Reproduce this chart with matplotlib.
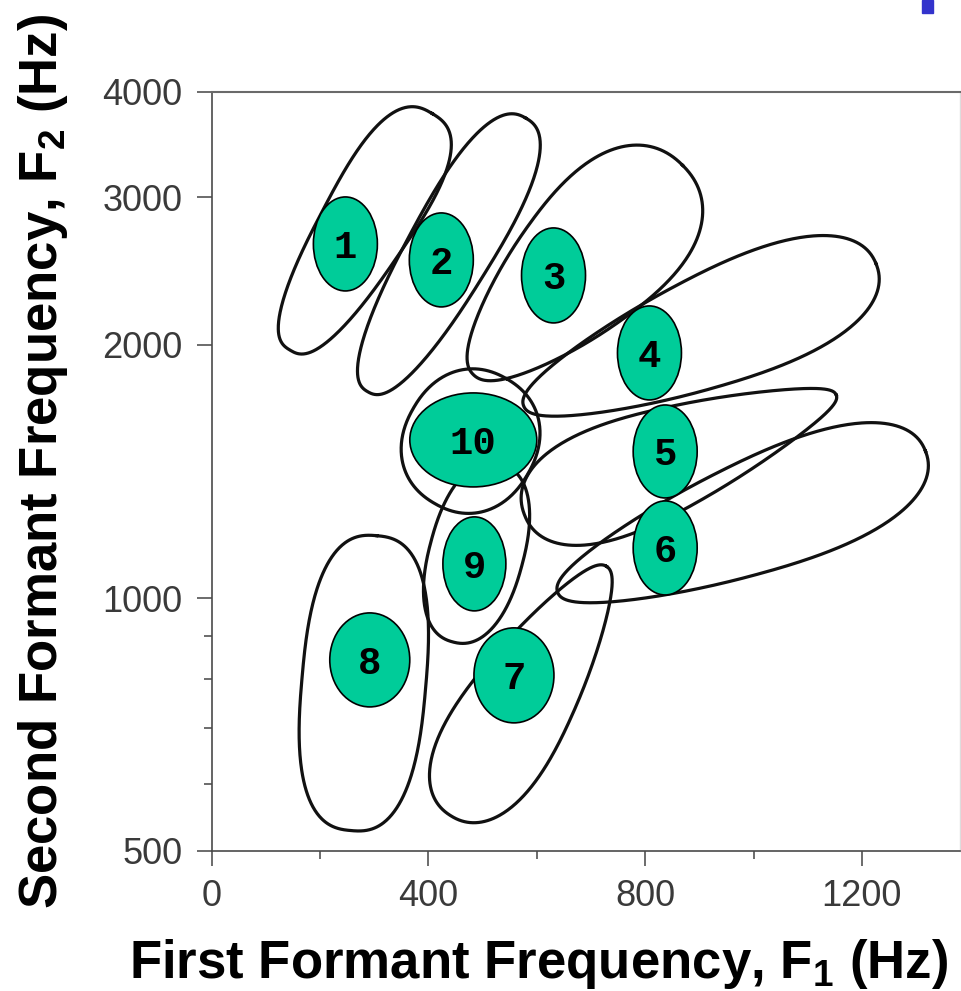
import numpy as np
import matplotlib.pyplot as plt
from matplotlib.patches import Ellipse, Rectangle
from matplotlib.ticker import NullFormatter

plt.rcParams['font.family'] = ['Liberation Sans', 'DejaVu Sans']
plt.rcParams['mathtext.fontset'] = 'custom'
plt.rcParams['mathtext.rm'] = 'Liberation Sans'
plt.rcParams['mathtext.bf'] = 'Liberation Sans:bold'

# vowel number labels and their mean formants (Hz)
vowel_ids = ['1', '2', '3', '4', '5', '6', '7', '8', '9', '10']
f1_mean = [247, 424, 631, 808, 837, 837, 558, 292, 485, 483]
f2_mean = [2638, 2525, 2420, 1957, 1494, 1147, 809, 844, 1098, 1542]
label_w = [64, 64, 64, 64, 64, 64, 80, 80, 63, 127]   # px
label_h = [94, 94, 95, 94, 93, 94, 95, 94, 94, 94]

# region outlines: centre (Hz), half length / half width (px), tilt, taper
region_f1 = [276, 434, 676, 901, 865, 978, 585, 281, 489, 478]
region_f2 = [2727, 2560, 2457, 2056, 1480, 1232, 775, 792, 1131, 1537]
region_len = [138, 158, 148, 190, 167, 197, 147, 148, 92, 72]
region_wid = [44, 42, 67, 55, 50, 55, 50, 62, 47, 66]
region_ang = [59, 60, 45, 22, 21, 21, 58, 85, 75, 60]
region_taper = [0.18, 0.12, 0.35, 0.35, -0.5, 0.35, -0.4, 0.0, 0.0, 0.0]
region_sq = [2.7, 2.5, 2.2, 2.2, 2.2, 2.2, 2.2, 2.6, 2.3, 2.2]

x_ticks = [0, 400, 800, 1200]
x_minor = [200, 600, 1000]
y_ticks = [500, 1000, 2000, 3000, 4000]
y_minor = [600, 700, 800, 900]


def draw_region(ax, f1, f2, a, b, ang, k, n):
    t = np.linspace(0, 2 * np.pi, 500)
    c, s = np.cos(t), np.sin(t)
    u = a * np.sign(c) * np.abs(c) ** (2 / n)
    v = b * np.sign(s) * np.abs(s) ** (2 / n) * (1 + k * u / a)
    th = np.radians(ang)
    x = u * np.cos(th) - v * np.sin(th)
    y = u * np.sin(th) + v * np.cos(th)
    cx, cy = ax.transData.transform((f1, f2))
    pts = ax.transData.inverted().transform(np.column_stack([cx + x, cy + y]))
    ax.plot(pts[:, 0], pts[:, 1], color='#111111', lw=2.3, zorder=2,
            solid_joinstyle='round')


fig = plt.figure(figsize=(9.61, 9.91), dpi=100)
ax = fig.add_axes([211.5 / 961, 140 / 991, 748 / 961, 759 / 991])
ax.set_yscale('log')
ax.set_xlim(0, 1380)
ax.set_ylim(500, 4000)

ax.set_xticks(x_ticks)
ax.set_xticklabels([str(v) for v in x_ticks])
ax.set_xticks(x_minor, minor=True)
ax.set_yticks(y_ticks)
ax.set_yticklabels([str(v) for v in y_ticks])
ax.set_yticks(y_minor, minor=True)
ax.yaxis.set_minor_formatter(NullFormatter())

ax.tick_params(which='major', length=11, width=1.1, color='#444444',
               labelsize=26, labelcolor='#3a3a3a')
ax.tick_params(which='minor', length=6, width=1.1, color='#444444')
ax.tick_params(axis='y', pad=10)
ax.tick_params(axis='x', pad=9)

for side in ['left', 'bottom']:
    ax.spines[side].set_color('#4a4a4a')
    ax.spines[side].set_linewidth(1.2)
ax.spines['top'].set_color('#6a6a6a')
ax.spines['top'].set_linewidth(1.5)
ax.spines['right'].set_color('#dddddd')
ax.spines['right'].set_linewidth(1.0)

for i in range(len(region_f1)):
    draw_region(ax, region_f1[i], region_f2[i], region_len[i], region_wid[i],
                region_ang[i], region_taper[i], region_sq[i])

to_axes = ax.transData + ax.transAxes.inverted()
for i, lab in enumerate(vowel_ids):
    cx, cy = to_axes.transform((f1_mean[i], f2_mean[i]))
    ax.add_patch(Ellipse((cx, cy), label_w[i] / ax.bbox.width,
                         label_h[i] / ax.bbox.height, transform=ax.transAxes,
                         facecolor='#00cc99', edgecolor='black', lw=1.2,
                         zorder=3))
    ax.text(f1_mean[i], f2_mean[i], lab, ha='center', va='center_baseline',
            fontsize=28, family='Liberation Mono', weight='bold', zorder=4)

fig.text(57 / 961, 1 - 461 / 991, 'Second Formant Frequency, F$_\\mathbf{2}$ (Hz)',
         rotation=90, rotation_mode='anchor', ha='center', va='baseline',
         fontsize=38, weight='bold')
fig.text(538 / 961, 13 / 991, 'First Formant Frequency, F$_\\mathbf{1}$ (Hz)',
         ha='center', va='baseline', fontsize=38, weight='bold')

# small blue mark in the top-right corner of the slide
fig.patches.append(Rectangle((922 / 961, 978 / 991), 11 / 961, 13 / 991,
                             transform=fig.transFigure, color='#3333cc'))

fig.savefig('out.png', dpi=100)
